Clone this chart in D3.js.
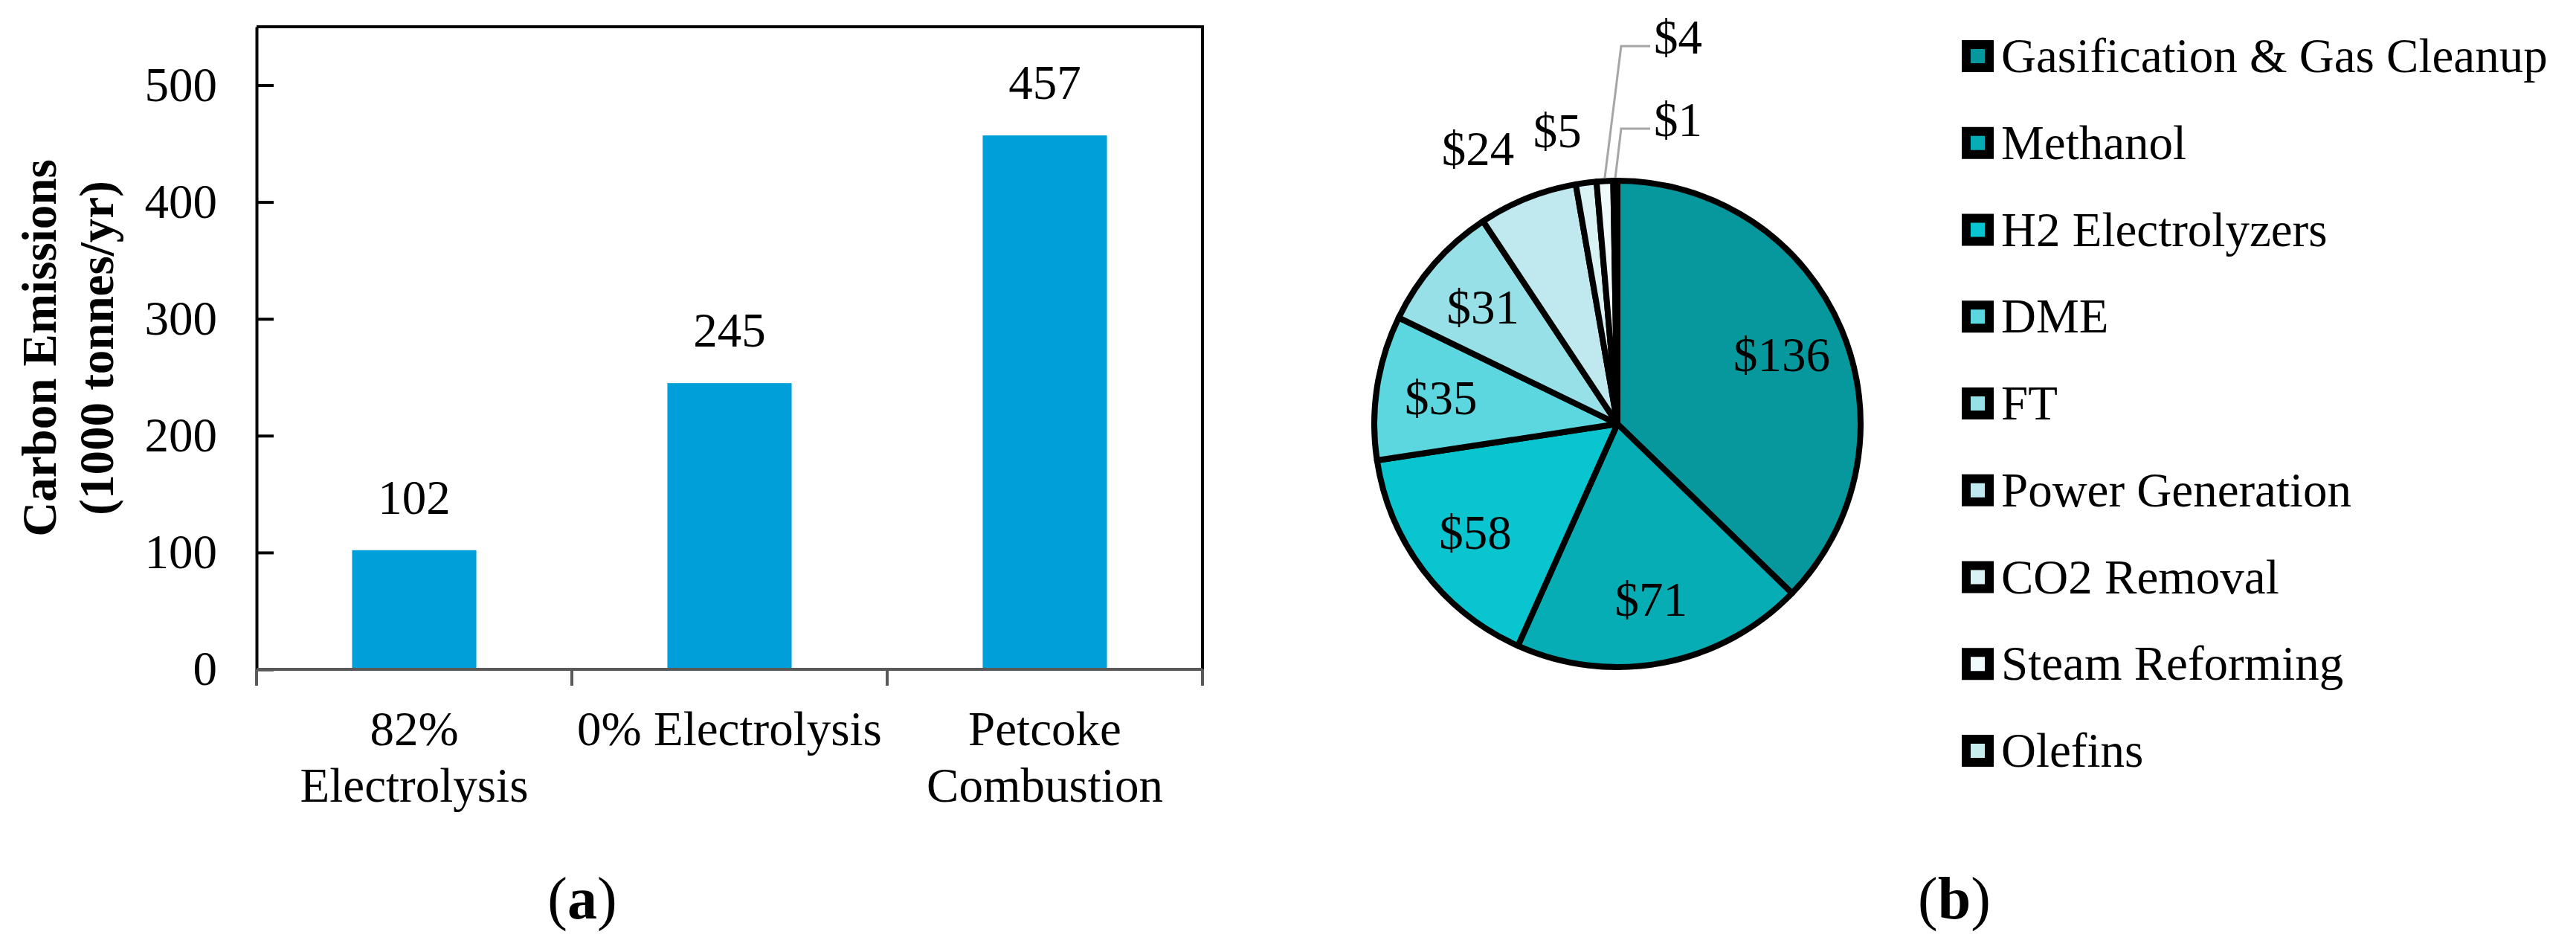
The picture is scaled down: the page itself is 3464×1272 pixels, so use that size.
<!DOCTYPE html>
<meta charset="utf-8">
<script src="https://d3js.org/d3.v7.min.js"></script>
<title>Carbon emissions and cost breakdown</title>
<style>
  body { margin: 0; background: #fff; }
  svg text { font-family: "Liberation Serif", "Times New Roman", serif; fill: #000; }
</style>
<body>
<div id="chart"></div>
<script>

// ---- data
const barCategories = ["82% Electrolysis", "0% Electrolysis", "Petcoke Combustion"];
const barLabelLines = [["82%", "Electrolysis"], ["0% Electrolysis"], ["Petcoke", "Combustion"]];
const barValues = [102, 245, 457];
const yTicks = [0, 100, 200, 300, 400, 500];

const pieCategories = ["Gasification & Gas Cleanup", "Methanol", "H2 Electrolyzers", "DME", "FT",
  "Power Generation", "CO2 Removal", "Steam Reforming", "Olefins"];
const pieValues = [136, 71, 58, 35, 31, 24, 5, 4, 1];

const W = 3464, H = 1272;
const svg = d3.select("#chart").append("svg")
    .attr("width", W)
    .attr("height", H);

// ================= (a) bar chart =================
const plot = {left: 345, right: 1617, top: 36, bottom: 900};

const x = d3.scaleBand()
  .domain(barCategories)
  .range([plot.left, plot.right]);
const y = d3.scaleLinear()
  .domain([0, 550])
  .range([plot.bottom, plot.top]);
const barW = x.bandwidth() * 0.394;

// top + right frame
svg.append("path")
  .attr("d", `M${plot.left},${plot.top}H${plot.right}V${y(0)}`)
  .attr("fill", "none")
  .attr("stroke", "#000")
  .attr("stroke-width", 4);

// bars
svg.selectAll(".bar")
  .data(barValues)
  .join("rect")
    .attr("class", "bar")
    .attr("x", (d, i) => x(barCategories[i]) + (x.bandwidth() - barW) / 2)
    .attr("y", d => y(d))
    .attr("width", barW)
    .attr("height", d => y(0) - y(d))
    .attr("fill", "#019fd9");

// value labels
svg.selectAll(".val")
  .data(barValues)
  .join("text")
    .attr("class", "val")
    .attr("x", (d, i) => x(barCategories[i]) + x.bandwidth() / 2)
    .attr("y", d => y(d) - 49)
    .attr("text-anchor", "middle")
    .attr("font-size", 65)
    .text(d => d);

// y axis, ticks pointing inwards
const yAxis = svg.append("g")
  .attr("transform", `translate(${plot.left},0)`)
  .call(d3.axisLeft(y).tickValues(yTicks).tickSizeInner(-23).tickSizeOuter(0).tickPadding(53));
yAxis.attr("font-size", 65);
yAxis.select(".domain").attr("stroke-width", 4);
yAxis.selectAll(".tick line").attr("stroke-width", 4);

// x axis (grey) with ticks between categories
svg.append("line")
  .attr("x1", plot.left).attr("x2", plot.right)
  .attr("y1", y(0)).attr("y2", y(0))
  .attr("stroke", "#595959")
  .attr("stroke-width", 4);
svg.selectAll(".xtick")
  .data(barCategories.map(c => x(c)).concat([plot.right]))
  .join("line")
    .attr("class", "xtick")
    .attr("x1", d => d).attr("x2", d => d)
    .attr("y1", y(0)).attr("y2", y(0) + 22)
    .attr("stroke", "#595959")
    .attr("stroke-width", 4);

// category labels
svg.selectAll(".cat")
  .data(barCategories)
  .join("text")
    .attr("class", "cat")
    .attr("text-anchor", "middle")
    .attr("font-size", 65)
    .each(function(c, i) {
      const cxp = x(c) + x.bandwidth() / 2;
      d3.select(this).selectAll("tspan")
        .data(barLabelLines[i])
        .join("tspan")
          .attr("x", cxp)
          .attr("y", (s, j) => 1002 + j * 76)
          .text(s => s);
    });

// y title
const yTitle = svg.append("g").attr("transform", "rotate(-90)");
yTitle.append("text")
  .attr("x", -(plot.top + plot.bottom) / 2)
  .attr("y", 75)
  .attr("text-anchor", "middle")
  .attr("font-size", 65)
  .attr("font-weight", "bold")
  .text("Carbon Emissions");
yTitle.append("text")
  .attr("x", -(plot.top + plot.bottom) / 2)
  .attr("y", 152)
  .attr("text-anchor", "middle")
  .attr("font-size", 65)
  .attr("font-weight", "bold")
  .text("(1000 tonnes/yr)");

// panel captions
function caption(xp, letter) {
  const t = svg.append("text")
    .attr("x", xp)
    .attr("y", 1235)
    .attr("text-anchor", "middle")
    .attr("font-size", 80);
  t.append("tspan").text("(");
  t.append("tspan").attr("font-weight", "bold").text(letter);
  t.append("tspan").text(")");
}
caption(783, "a");
caption(2628, "b");

// ================= (b) pie chart =================
const pcx = 2175, pcy = 570, R = 327;
const color = d3.scaleOrdinal()
  .domain(pieCategories)
  .range(["#07989e", "#06adb5", "#08c5cf", "#5cd6df", "#98e0e7", "#bfe9ef", "#d9f2f4", "#f0f9fb", "#c6ecee"]);

const arcs = d3.pie().sort(null)(pieValues);
const arc = d3.arc().innerRadius(0).outerRadius(R);
const arcIn = d3.arc().innerRadius(240).outerRadius(240);

const pg = svg.append("g").attr("transform", `translate(${pcx},${pcy})`);

pg.selectAll(".slice")
  .data(arcs)
  .join("path")
    .attr("class", "slice")
    .attr("d", arc)
    .attr("fill", (d, i) => color(pieCategories[i]))
    .attr("stroke", "#000")
    .attr("stroke-width", 8)
    .attr("stroke-linejoin", "round");

const mid = d => (d.startAngle + d.endAngle) / 2;
const pt = (a, r) => [r * Math.sin(a), -r * Math.cos(a)];

// inside labels for the big slices
pg.selectAll(".lblIn")
  .data(arcs.filter(d => d.value >= 30))
  .join("text")
    .attr("class", "lblIn")
    .attr("transform", d => `translate(${arcIn.centroid(d)})`)
    .attr("dy", "0.35em")
    .attr("text-anchor", "middle")
    .attr("font-size", 65)
    .attr("fill", "#111")
    .text(d => "$" + d.value);

// outside labels
pg.selectAll(".lblOut")
  .data(arcs.filter(d => d.value < 30 && d.value >= 5))
  .join("text")
    .attr("class", "lblOut")
    .attr("transform", d => `translate(${pt(mid(d), 375)})`)
    .attr("text-anchor", "end")
    .attr("font-size", 65)
    .text(d => "$" + d.value);

// labels with leader lines for the smallest slices
const leaderBase = [72, 183];      // label baselines (page coords)
const leaderElbowX = 2180, leaderEndX = 2219, leaderTextX = 2224;
const small = arcs.filter(d => d.value < 5);
small.forEach((d, i) => {
  const [sx, sy] = pt(mid(d), R + 4);
  const ly = leaderBase[i] - 10 - pcy;
  pg.append("polyline")
    .attr("points", [[sx, sy], [leaderElbowX - pcx, ly], [leaderEndX - pcx, ly]].join(" "))
    .attr("fill", "none")
    .attr("stroke", "#a6a6a6")
    .attr("stroke-width", 3);
  pg.append("text")
    .attr("x", leaderTextX - pcx)
    .attr("y", leaderBase[i] - pcy)
    .attr("font-size", 65)
    .text("$" + d.value);
});

// legend
const lg = svg.append("g").attr("transform", "translate(2638,97)");
const item = lg.selectAll(".leg")
  .data(pieCategories)
  .join("g")
    .attr("class", "leg")
    .attr("transform", (d, i) => `translate(0,${i * 116.75})`);
item.append("rect")
  .attr("x", 6).attr("y", -37)
  .attr("width", 31).attr("height", 31)
  .attr("fill", d => color(d))
  .attr("stroke", "#000")
  .attr("stroke-width", 12);
item.append("text")
  .attr("x", 53)
  .attr("y", 0)
  .attr("font-size", 65)
  .text(d => d);

</script>
</body>
